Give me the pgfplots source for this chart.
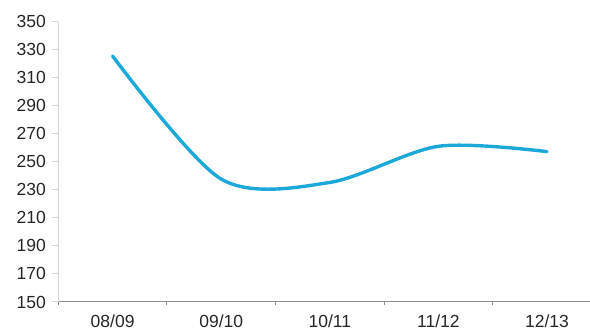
\documentclass[border=0pt]{standalone}
\usepackage{fontspec}
\setmainfont{Liberation Sans}
\usepackage{pgfplots}
\pgfplotsset{compat=1.18}
\definecolor{linec}{RGB}{29,168,218}
\definecolor{yaxc}{RGB}{210,214,220}
\definecolor{xaxc}{RGB}{140,140,140}
\begin{document}
\begin{tikzpicture}[x=1pt,y=1pt]
\useasboundingbox (0,0) rectangle (590,331);
\begin{axis}[
  at={(58.3pt,29pt)}, anchor=south west,
  scale only axis, width=531.7pt, height=280.3pt,
  xmin=-0.5, xmax=4.396, ymin=150, ymax=350,
  axis x line*=bottom, axis y line*=left,
  axis line style={-},
  x axis line style={draw=xaxc, line width=1pt},
  y axis line style={draw=yaxc, line width=1pt},
  xtick={0,1,2,3,4},
  xticklabels={08/09,09/10,10/11,11/12,12/13},
  minor xtick={-0.5,0.5,1.5,2.5,3.5},
  ytick={150,170,...,350},
  tick align=outside,
  major tick length=6pt, minor tick length=3.5pt,
  major x tick style={draw=none},
  minor x tick style={draw=xaxc, line width=1pt},
  y tick style={draw=yaxc, line width=1pt},
  /pgf/number format/assume math mode=true,
  ticklabel style={font=\fontsize{17.5}{20}\selectfont, text=black!85},
  yticklabel style={xshift=-3pt},
  xticklabel style={yshift=-4.5pt, inner sep=2pt},
  clip=false,
]
\addplot[linec, line width=3.4pt, smooth, line cap=round] coordinates {
  (0,325.5) (1,237.7) (2,235.3) (3,261.1) (4,257.3)
};
\end{axis}
\end{tikzpicture}
\end{document}
